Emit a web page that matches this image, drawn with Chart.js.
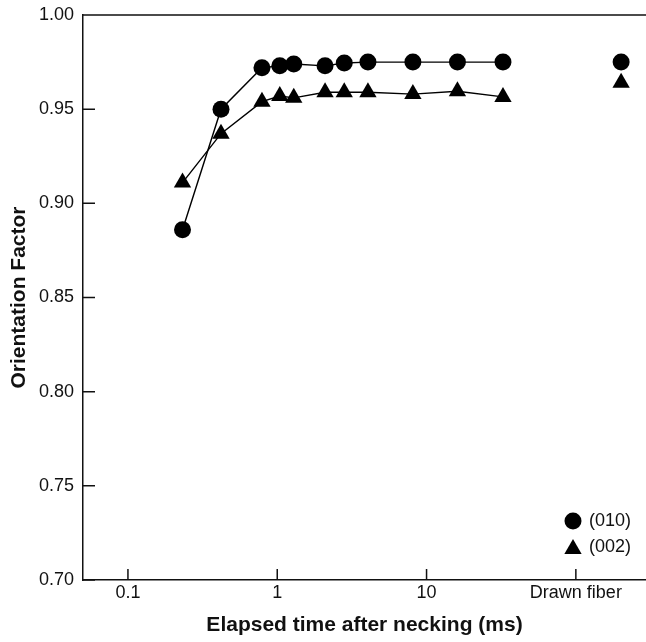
<!DOCTYPE html>
<html>
<head>
<meta charset="utf-8">
<script src="https://cdn.jsdelivr.net/npm/chart.js@4.4.0/dist/chart.umd.min.js"></script>
<style>
  html, body { margin: 0; padding: 0; background: #fff; }
  canvas { display: block; }
</style>
</head>
<body>
<canvas id="orientChart" width="646" height="642"></canvas>
<script>
// elapsed time after necking (ms)
const times = [0.232, 0.42, 0.79, 1.04, 1.29, 2.09, 2.81, 4.05, 8.1, 16.1, 32.5];
const f010 = [0.886, 0.950, 0.972, 0.973, 0.974, 0.973, 0.9745, 0.975, 0.975, 0.975, 0.975];
const f002 = [0.911, 0.937, 0.954, 0.957, 0.956, 0.959, 0.959, 0.959, 0.958, 0.9595, 0.9565];

// drawn fiber sits on its own spot to the right of the time axis
const drawnTime = 201;
const drawn010 = 0.975;
const drawn002 = 0.964;

const xTickValues = [0.1, 1, 10, 100];
const xTickLabels = ['0.1', '1', '10', 'Drawn fiber'];
const yTickValues = [0.70, 0.75, 0.80, 0.85, 0.90, 0.95, 1.00];

const ink = '#111';
const tickFont = { family: '"Liberation Sans", Arial, sans-serif', size: 18 };
const titleFont = { family: '"Liberation Sans", Arial, sans-serif', size: 21, weight: 'bold' };

const pts = (xs, ys) => xs.map((x, i) => ({ x: x, y: ys[i] }));

// inward tick marks + the top frame line
const frameTicks = {
  id: 'frameTicks',
  afterDatasetsDraw(chart) {
    const { ctx, chartArea, scales } = chart;
    ctx.save();
    ctx.strokeStyle = ink;
    ctx.lineWidth = 1.5;
    ctx.beginPath();
    ctx.moveTo(chartArea.left, chartArea.top);
    ctx.lineTo(chart.width, chartArea.top);
    scales.x.ticks.forEach(t => {
      const px = scales.x.getPixelForValue(t.value);
      ctx.moveTo(px, chartArea.bottom);
      ctx.lineTo(px, chartArea.bottom - 11);
    });
    scales.y.ticks.forEach(t => {
      const py = scales.y.getPixelForValue(t.value);
      ctx.moveTo(chartArea.left, py);
      ctx.lineTo(chartArea.left + 12, py);
    });
    ctx.stroke();
    ctx.restore();
  }
};

// small legend in the lower right corner
const cornerLegend = {
  id: 'cornerLegend',
  afterDraw(chart) {
    const { ctx, chartArea } = chart;
    const items = [
      { label: '(010)', style: 'circle', radius: 8.5 },
      { label: '(002)', style: 'triangle', radius: 10 }
    ];
    ctx.save();
    ctx.font = '18px "Liberation Sans", Arial, sans-serif';
    ctx.textBaseline = 'middle';
    items.forEach((it, i) => {
      const y = chartArea.bottom - 59 + i * 26;
      const x = chartArea.right - 73;
      ctx.fillStyle = '#000';
      Chart.helpers.drawPoint(ctx, { pointStyle: it.style, radius: it.radius, rotation: 0, borderWidth: 0 }, x, y + (it.style === 'triangle' ? 2 : 0));
      ctx.fillStyle = ink;
      ctx.fillText(it.label, x + 16, y);
    });
    ctx.restore();
  }
};

new Chart(document.getElementById('orientChart').getContext('2d'), {
  type: 'line',
  data: {
    datasets: [
      {
        label: '(002)',
        data: pts(times, f002),
        borderColor: '#000',
        backgroundColor: '#000',
        borderWidth: 1.4,
        pointStyle: 'triangle',
        pointRadius: 10,
        pointBorderWidth: 0,
        clip: false
      },
      {
        label: '(010)',
        data: pts(times, f010),
        borderColor: '#000',
        backgroundColor: '#000',
        borderWidth: 1.4,
        pointStyle: 'circle',
        pointRadius: 8.5,
        pointBorderWidth: 0,
        clip: false
      },
      {
        label: '(002) drawn',
        data: [{ x: drawnTime, y: drawn002 }],
        showLine: false,
        backgroundColor: '#000',
        pointStyle: 'triangle',
        pointRadius: 10,
        pointBorderWidth: 0,
        clip: false
      },
      {
        label: '(010) drawn',
        data: [{ x: drawnTime, y: drawn010 }],
        showLine: false,
        backgroundColor: '#000',
        pointStyle: 'circle',
        pointRadius: 8.5,
        pointBorderWidth: 0,
        clip: false
      }
    ]
  },
  options: {
    responsive: false,
    animation: false,
    layout: { autoPadding: false, padding: { top: 15, right: 0, left: 0, bottom: 0 } },
    plugins: {
      legend: { display: false },
      tooltip: { enabled: false }
    },
    scales: {
      x: {
        type: 'logarithmic',
        min: 0.05,
        max: 295,
        afterBuildTicks: s => { s.ticks = xTickValues.map(v => ({ value: v })); },
        afterFit: s => { s.height = 62; s.paddingLeft = 0; s.paddingRight = 0; },
        grid: { display: false, drawTicks: false },
        border: { display: true, color: ink, width: 1.5 },
        ticks: {
          color: ink,
          font: tickFont,
          padding: 2,
          autoSkip: false,
          maxRotation: 0,
          callback: v => xTickLabels[xTickValues.indexOf(v)]
        },
        title: {
          display: true,
          text: 'Elapsed time after necking (ms)',
          color: ink,
          font: titleFont,
          padding: { top: 0, bottom: 4 }
        }
      },
      y: {
        min: 0.70,
        max: 1.00,
        afterBuildTicks: s => { s.ticks = yTickValues.map(v => ({ value: v })); },
        afterFit: s => { s.width = 83; s.paddingTop = 0; s.paddingBottom = 0; },
        grid: { display: false, drawTicks: false },
        border: { display: true, color: ink, width: 1.5 },
        ticks: {
          color: ink,
          font: tickFont,
          padding: 9,
          callback: v => v.toFixed(2)
        },
        title: {
          display: true,
          text: 'Orientation Factor',
          color: ink,
          font: titleFont,
          padding: { top: 7, bottom: 0 }
        }
      }
    }
  },
  plugins: [frameTicks, cornerLegend]
});
</script>
</body>
</html>
